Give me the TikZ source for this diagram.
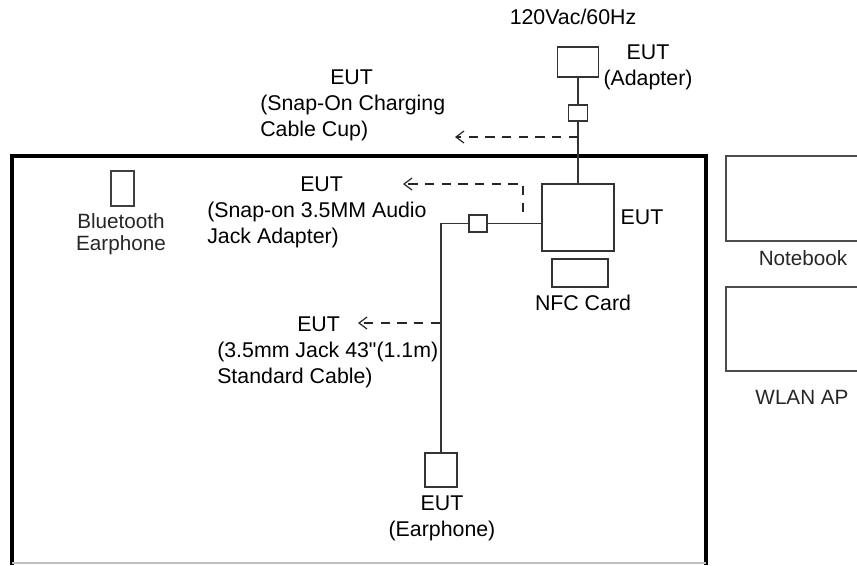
\documentclass[tikz,border=0pt]{standalone}
\usepackage{fontspec}
\setmainfont{Liberation Sans}[Ligatures=TeXOff]
\usepackage{tikz}
\usetikzlibrary{arrows.meta,positioning}
\usetikzlibrary{calc}
\usepackage{xcolor}

\newcommand{\lblfont}{\fontsize{16pt}{19.5pt}\selectfont}
\newcommand{\smlfont}{\fontsize{15.5pt}{16.5pt}\selectfont}

\begin{document}
\begin{tikzpicture}[
  x=0.75pt, y=-0.75pt,
  box/.style={rectangle, draw=black!80, line width=1.3pt, fill=white, inner sep=0pt},
  cable/.style={draw=black!80, line width=1.1pt},
  pointer/.style={draw=black!85, line width=0.9pt, dash pattern=on 7pt off 5.5pt,
    -{Straight Barb[length=6pt,width=9pt]}},
  lbl/.style={font=\lblfont, inner sep=0pt, align=left},
  gray lbl/.style={font=\smlfont, inner sep=0pt, align=center, text=black!85}
]
\useasboundingbox (0,0) rectangle (857,565);
\clip (0,0) rectangle (857,565);

% ==================
% Test table (frame)
% ==================
\draw[line width=3pt, line join=miter] (12,565) -- (12,156) -- (706,156) -- (706,565);
\draw[black!25, line width=0.8pt] (12,563) -- (706,563);

% ==================
% Power side
% ==================
\node[lbl] (mains) at (573,17) {120Vac/60Hz};
\node[box, minimum width=30.75pt, minimum height=22.5pt] (adapter) at (578,62) {};
\node[lbl, align=center] (adapterLbl) at (648,67.5) {EUT\\(Adapter)};
\node[box, minimum width=14.25pt, minimum height=12pt] (cup) at (578,113) {};

\draw[cable] (adapter) -- (cup);

% ==================
% EUT and NFC card
% ==================
\node[box, minimum width=54pt, minimum height=50.25pt] (eut) at (578,217.5) {};
\node[lbl] (eutLbl) at (642,217) {EUT};
\node[box, minimum width=42pt, minimum height=21pt] (nfc) at (580,273) {};
\node[lbl] (nfcLbl) at (583,303) {NFC Card};

\draw[cable] (cup) -- (eut);

% ==================
% Audio cable and earphone
% ==================
\node[box, minimum width=13.5pt, minimum height=12.75pt] (jack) at (478,223.5) {};
\node[box, minimum width=24pt, minimum height=25.5pt] (earbud) at (441,470) {};
\node[lbl, align=center] (earbudLbl) at (442,518) {EUT\\(Earphone)};

\draw[cable] (jack) -- (eut.west |- jack);
\draw[cable] (jack.west) -| (earbud.north);

% ==================
% Accessory labels
% ==================
\node[lbl, anchor=west] (cupLbl) at (260,105)
  {\hspace*{52.5pt}EUT\\(Snap-On Charging\\Cable Cup)};
\node[lbl, anchor=west] (snapLbl) at (207,212)
  {\hspace*{69.75pt}EUT\\(Snap-on 3.5MM Audio\\Jack Adapter)};
\node[lbl, anchor=west] (cableLbl) at (217,352)
  {\hspace*{60pt}EUT\\(3.5mm Jack 43"(1.1m)\\Standard Cable)};

\coordinate (cupTap) at (578,137);
\coordinate (cupTip) at (455,137);
\coordinate (snapTap) at (523,212);
\coordinate (snapTip) at (403,184);
\coordinate (cableTap) at (440,323);
\coordinate (cableTip) at (358,323);

\draw[pointer] (cupTap) -- (cupTip);
\draw[pointer] (snapTap) |- (snapTip);
\draw[pointer] (cableTap) -- (cableTip);

% ==================
% Other devices
% ==================
\node[box, draw=black!75, line width=1pt, minimum width=17.25pt, minimum height=26.25pt] (bt) at (122.5,188.5) {};
\node[gray lbl] (btLbl) at (121,234) {Bluetooth\\Earphone};

\node[box, draw=black!70, line width=1.1pt, minimum width=120pt, minimum height=63.75pt] (notebook) at (806,198.5) {};
\node[gray lbl] (notebookLbl) at (803,258) {Notebook};
\node[box, draw=black!70, line width=1.1pt, minimum width=120pt, minimum height=63pt] (wlan) at (806,329) {};
\node[gray lbl] (wlanLbl) at (802,397) {WLAN AP};
\end{tikzpicture}
\end{document}
